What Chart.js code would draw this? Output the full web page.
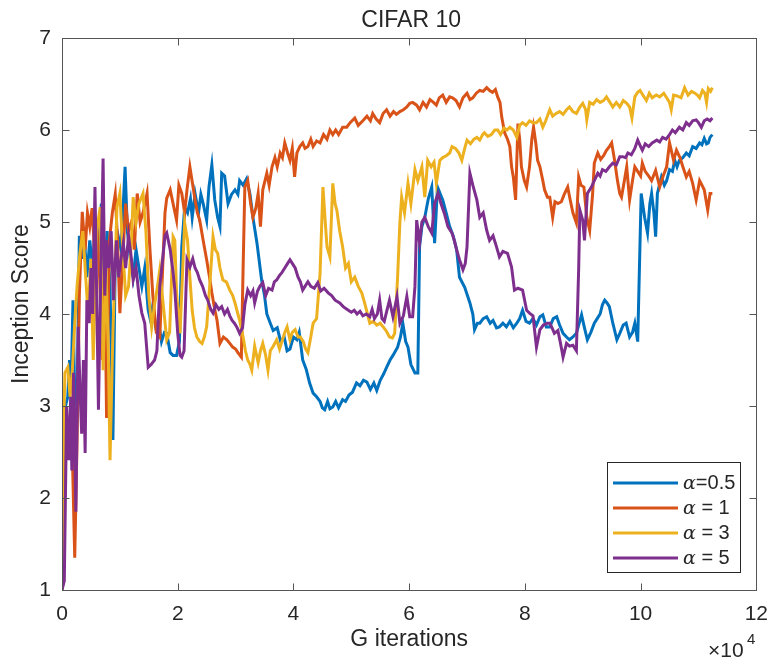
<!DOCTYPE html>
<html>
<head>
<meta charset="utf-8">
<script src="https://cdn.jsdelivr.net/npm/chart.js@4.4.1/dist/chart.umd.min.js"></script>
<style>
  html, body { margin: 0; padding: 0; background: #fff; }
  #wrap { width: 772px; height: 662px; }
</style>
</head>
<body>
<div id="wrap"><canvas id="chart" width="772" height="662"></canvas></div>
<script>
// ── Data (G iterations in units of 10^4, inception score) ─────────────────
const xTicks = [0, 2, 4, 6, 8, 10, 12];
const yTicks = [1, 2, 3, 4, 5, 6, 7];
const alphaText = ["=0.5", " = 1", " = 3", " = 5"];

const alpha05 = [
  [0,1.0],[0.03,2.3],[0.06,3.0],[0.1,3.1],[0.13,3.5],[0.16,3.3],[0.19,4.15],[0.22,3.1],[0.26,3.0],[0.3,4.85],
  [0.34,4.6],[0.38,4.9],[0.43,4.4],[0.48,4.8],[0.53,4.5],[0.58,5.0],[0.63,4.6],[0.68,5.2],[0.73,4.4],[0.78,4.9],
  [0.83,4.3],[0.88,2.63],[0.92,4.6],[0.97,4.85],[1.02,4.7],[1.06,5.2],[1.09,5.6],[1.13,4.9],[1.18,4.6],[1.23,4.4],
  [1.28,4.7],[1.33,4.5],[1.38,4.3],[1.43,4.5],[1.49,4.04],[1.53,3.93],[1.57,4.1],[1.62,3.86],[1.67,3.9],[1.72,3.7],
  [1.77,3.8],[1.81,3.79],[1.87,3.58],[1.92,3.55],[1.98,3.55],[2.03,3.7],[2.07,4.73],[2.12,5.16],[2.17,5.1],[2.22,5.25],
  [2.25,5.05],[2.3,5.31],[2.36,5.1],[2.4,5.3],[2.44,5.2],[2.5,5.02],[2.54,5.38],[2.59,5.62],[2.64,5.24],[2.69,5.05],
  [2.73,4.95],[2.76,5.53],[2.81,5.5],[2.87,5.2],[2.93,5.3],[2.99,5.35],[3.04,5.3],[3.07,5.45],[3.13,5.4],[3.19,5.47],
  [3.25,5.3],[3.3,5.05],[3.37,4.77],[3.45,4.37],[3.5,4.2],[3.54,4.0],[3.6,3.9],[3.65,3.82],[3.72,3.85],[3.78,3.7],
  [3.84,3.75],[3.89,3.6],[3.94,3.62],[4.0,3.75],[4.06,3.72],[4.1,3.8],[4.16,3.5],[4.22,3.4],[4.28,3.25],[4.34,3.14],
  [4.4,3.1],[4.46,3.05],[4.5,2.98],[4.54,2.96],[4.59,3.05],[4.63,2.97],[4.68,2.99],[4.73,3.05],[4.78,2.98],[4.85,3.07],
  [4.9,3.05],[4.96,3.12],[5.02,3.15],[5.09,3.25],[5.15,3.22],[5.21,3.28],[5.27,3.26],[5.33,3.18],[5.39,3.25],[5.44,3.17],
  [5.5,3.28],[5.56,3.35],[5.61,3.42],[5.67,3.5],[5.72,3.55],[5.8,3.64],[5.85,3.75],[5.89,3.9],[5.94,3.7],[5.98,3.64],
  [6.03,3.45],[6.1,3.36],[6.15,3.36],[6.18,4.73],[6.22,4.95],[6.27,5.05],[6.33,5.25],[6.39,5.38],[6.44,4.77],[6.49,5.38],
  [6.54,5.3],[6.58,5.24],[6.64,5.1],[6.7,4.95],[6.76,4.85],[6.82,4.7],[6.87,4.4],[6.96,4.29],[7.05,4.12],[7.1,4.0],
  [7.13,3.83],[7.18,3.9],[7.22,3.9],[7.28,3.95],[7.34,3.97],[7.4,3.9],[7.45,3.93],[7.51,3.85],[7.56,3.86],[7.62,3.9],
  [7.68,3.86],[7.74,3.92],[7.8,3.85],[7.86,3.9],[7.91,3.95],[7.96,4.04],[8.02,3.92],[8.08,3.9],[8.14,3.95],[8.2,3.88],
  [8.26,3.97],[8.31,3.99],[8.37,3.86],[8.43,3.86],[8.49,3.95],[8.55,3.97],[8.6,3.88],[8.66,3.79],[8.72,3.75],[8.77,3.72],
  [8.83,3.75],[8.89,3.79],[8.94,3.9],[8.98,3.99],[9.03,3.85],[9.08,3.72],[9.14,3.8],[9.2,3.9],[9.25,3.95],[9.3,4.0],
  [9.34,4.1],[9.38,4.15],[9.42,4.12],[9.46,4.08],[9.52,3.9],[9.59,3.72],[9.64,3.79],[9.7,3.88],[9.75,3.9],[9.81,3.75],
  [9.86,3.8],[9.9,3.9],[9.95,3.7],[10.01,5.31],[10.07,5.05],[10.12,4.88],[10.16,5.2],[10.19,5.31],[10.23,5.1],[10.26,4.84],
  [10.29,5.31],[10.36,5.49],[10.41,5.4],[10.45,5.45],[10.5,5.57],[10.55,5.55],[10.59,5.67],[10.63,5.6],[10.67,5.67],[10.73,5.7],
  [10.79,5.75],[10.84,5.72],[10.9,5.82],[10.96,5.8],[11.02,5.86],[11.06,5.84],[11.1,5.91],[11.14,5.85],[11.17,5.86],[11.2,5.92],
  [11.24,5.95]
];

const alpha1 = [
  [0,2.45],[0.04,2.1],[0.08,2.9],[0.12,2.5],[0.16,3.0],[0.22,1.35],[0.26,2.6],[0.3,4.2],[0.35,5.11],[0.4,4.7],
  [0.44,5.1],[0.48,4.95],[0.52,5.15],[0.56,4.7],[0.6,5.0],[0.65,4.4],[0.7,3.5],[0.74,4.5],[0.77,2.87],[0.82,4.8],
  [0.87,5.1],[0.92,5.3],[0.96,4.8],[1.0,4.01],[1.05,4.6],[1.1,5.2],[1.15,4.9],[1.2,5.0],[1.25,4.7],[1.3,5.31],
  [1.35,5.0],[1.4,5.1],[1.47,5.31],[1.52,4.7],[1.57,4.2],[1.63,3.8],[1.69,3.75],[1.74,4.5],[1.78,5.1],[1.81,5.26],
  [1.87,5.35],[1.92,5.2],[1.98,5.02],[2.02,5.4],[2.07,5.31],[2.12,5.1],[2.16,5.35],[2.21,5.6],[2.26,5.4],[2.3,5.24],
  [2.34,5.1],[2.38,5.02],[2.44,4.8],[2.5,4.59],[2.55,4.4],[2.59,4.23],[2.64,4.05],[2.68,3.93],[2.73,3.68],[2.79,3.75],
  [2.85,3.72],[2.9,3.68],[2.95,3.64],[3.0,3.62],[3.04,3.58],[3.1,3.53],[3.13,4.5],[3.16,5.38],[3.21,5.45],[3.26,5.2],
  [3.3,5.05],[3.35,5.15],[3.39,5.31],[3.43,4.95],[3.47,5.35],[3.54,5.53],[3.58,5.4],[3.63,5.6],[3.68,5.7],[3.72,5.6],
  [3.77,5.75],[3.81,5.7],[3.85,5.86],[3.9,5.75],[3.94,5.67],[3.98,5.8],[4.02,5.49],[4.06,5.75],[4.11,5.82],[4.16,5.86],
  [4.2,5.8],[4.25,5.82],[4.3,5.9],[4.34,5.82],[4.4,5.88],[4.46,5.86],[4.52,5.95],[4.58,5.9],[4.63,6.0],[4.68,5.95],
  [4.73,6.0],[4.78,5.95],[4.85,6.03],[4.92,6.03],[4.98,6.08],[5.06,6.13],[5.12,6.05],[5.2,6.1],[5.27,6.15],[5.33,6.1],
  [5.37,6.18],[5.43,6.12],[5.49,6.08],[5.55,6.18],[5.61,6.22],[5.67,6.15],[5.73,6.2],[5.78,6.17],[5.84,6.2],[5.9,6.22],
  [5.96,6.25],[6.01,6.29],[6.06,6.3],[6.13,6.27],[6.18,6.22],[6.24,6.3],[6.3,6.25],[6.36,6.33],[6.42,6.3],[6.47,6.27],
  [6.52,6.35],[6.58,6.38],[6.64,6.3],[6.7,6.36],[6.75,6.35],[6.81,6.32],[6.87,6.25],[6.93,6.35],[7.0,6.4],[7.05,6.33],
  [7.1,6.35],[7.16,6.4],[7.22,6.43],[7.28,6.42],[7.34,6.46],[7.39,6.43],[7.44,6.41],[7.49,6.44],[7.53,6.36],[7.57,6.3],
  [7.6,6.14],[7.65,5.97],[7.7,5.9],[7.74,5.82],[7.77,5.6],[7.8,5.49],[7.84,5.24],[7.88,6.07],[7.91,5.9],[7.94,5.6],
  [7.99,5.45],[8.03,5.38],[8.08,5.6],[8.12,5.9],[8.15,6.03],[8.19,5.85],[8.22,5.67],[8.26,5.6],[8.31,5.45],[8.34,5.35],
  [8.39,5.27],[8.43,5.27],[8.48,5.05],[8.52,5.22],[8.57,5.2],[8.63,5.22],[8.68,5.3],[8.74,5.38],[8.78,5.25],[8.83,5.1],
  [8.89,4.99],[8.93,5.49],[8.97,5.4],[9.02,5.38],[9.07,5.05],[9.12,4.91],[9.17,5.3],[9.2,5.64],[9.26,5.75],[9.31,5.68],
  [9.36,5.72],[9.41,5.78],[9.46,5.82],[9.5,5.86],[9.55,5.67],[9.6,5.45],[9.64,5.31],[9.67,5.27],[9.72,5.45],[9.76,5.6],
  [9.81,5.24],[9.86,5.45],[9.9,5.6],[9.95,5.55],[10.0,5.5],[10.03,5.64],[10.08,5.55],[10.14,5.5],[10.19,5.45],[10.26,5.56],
  [10.33,5.38],[10.39,5.5],[10.45,5.6],[10.5,5.86],[10.57,5.67],[10.62,5.78],[10.68,5.7],[10.73,5.6],[10.79,5.49],[10.84,5.55],
  [10.9,5.42],[10.96,5.24],[11.02,5.45],[11.06,5.4],[11.1,5.35],[11.16,5.13],[11.2,5.31],[11.24,5.31]
];

const alpha3 = [
  [0,1.0],[0.03,2.8],[0.05,3.36],[0.1,3.42],[0.14,3.1],[0.18,3.4],[0.22,3.9],[0.26,4.3],[0.31,4.66],[0.36,4.9],
  [0.4,4.5],[0.45,4.0],[0.5,4.6],[0.54,3.5],[0.6,4.91],[0.66,5.16],[0.71,3.39],[0.76,4.5],[0.8,3.6],[0.83,2.41],
  [0.88,3.8],[0.95,5.16],[1.0,5.31],[1.05,4.7],[1.1,4.2],[1.15,4.3],[1.2,4.8],[1.23,5.27],[1.28,5.0],[1.33,5.2],
  [1.4,5.31],[1.45,4.9],[1.5,4.2],[1.55,3.86],[1.6,4.1],[1.65,4.3],[1.69,4.48],[1.75,4.1],[1.81,3.72],[1.86,3.8],
  [1.92,4.84],[1.95,4.8],[1.98,4.23],[2.04,3.79],[2.08,4.4],[2.12,4.99],[2.17,4.8],[2.21,4.4],[2.25,4.04],[2.29,3.85],
  [2.33,3.75],[2.38,3.7],[2.42,3.68],[2.46,3.75],[2.5,3.86],[2.56,4.37],[2.61,4.84],[2.65,4.7],[2.69,4.66],[2.73,4.5],
  [2.78,4.37],[2.84,4.35],[2.9,4.26],[2.95,4.2],[2.99,4.12],[3.04,4.0],[3.07,3.93],[3.13,3.75],[3.17,3.6],[3.21,3.5],
  [3.25,3.45],[3.28,3.39],[3.33,3.65],[3.39,3.47],[3.43,3.6],[3.47,3.68],[3.52,3.55],[3.56,3.39],[3.6,3.6],[3.65,3.65],
  [3.71,3.72],[3.76,3.62],[3.8,3.7],[3.85,3.8],[3.89,3.86],[3.94,3.72],[3.98,3.8],[4.03,3.83],[4.08,3.75],[4.12,3.75],
  [4.17,3.7],[4.21,3.62],[4.25,3.58],[4.3,3.75],[4.34,3.9],[4.4,3.95],[4.46,4.44],[4.51,5.38],[4.55,5.0],[4.58,4.73],
  [4.63,4.62],[4.68,5.42],[4.72,5.2],[4.75,5.13],[4.8,4.9],[4.85,4.73],[4.9,4.5],[4.95,4.55],[5.0,4.35],[5.06,4.4],
  [5.12,4.3],[5.18,4.23],[5.23,4.12],[5.28,4.0],[5.32,3.9],[5.38,3.92],[5.44,3.88],[5.5,3.9],[5.55,3.86],[5.6,3.82],
  [5.66,3.75],[5.71,3.74],[5.75,3.79],[5.8,4.4],[5.84,5.0],[5.87,5.27],[5.92,5.1],[5.98,5.42],[6.03,5.2],[6.1,5.57],
  [6.15,5.45],[6.22,5.6],[6.27,5.27],[6.32,5.67],[6.38,5.6],[6.43,5.65],[6.47,5.42],[6.53,5.67],[6.58,5.7],[6.64,5.72],
  [6.7,5.75],[6.74,5.82],[6.8,5.8],[6.86,5.75],[6.91,5.67],[6.96,5.8],[7.0,5.89],[7.06,5.85],[7.12,5.9],[7.17,5.92],
  [7.22,5.89],[7.27,5.95],[7.3,5.97],[7.36,5.93],[7.42,5.95],[7.48,6.0],[7.53,6.0],[7.58,5.95],[7.64,6.02],[7.69,6.0],
  [7.74,6.03],[7.8,6.0],[7.86,5.92],[7.91,6.05],[7.96,6.08],[8.02,6.05],[8.08,6.1],[8.14,6.08],[8.2,6.08],[8.26,6.12],
  [8.31,6.03],[8.36,6.1],[8.43,6.22],[8.48,6.15],[8.54,6.18],[8.6,6.2],[8.66,6.17],[8.72,6.22],[8.77,6.25],[8.83,6.2],
  [8.89,6.18],[8.95,6.25],[9.0,6.29],[9.05,6.22],[9.07,6.11],[9.12,6.3],[9.18,6.28],[9.24,6.33],[9.3,6.3],[9.36,6.32],
  [9.41,6.36],[9.47,6.3],[9.52,6.25],[9.58,6.3],[9.64,6.25],[9.7,6.32],[9.76,6.29],[9.81,6.25],[9.85,6.13],[9.9,6.36],
  [9.95,6.41],[9.99,6.43],[10.05,6.37],[10.1,6.32],[10.15,6.4],[10.2,6.35],[10.27,6.38],[10.33,6.36],[10.4,6.4],[10.45,6.35],
  [10.5,6.3],[10.53,6.22],[10.57,6.38],[10.63,6.37],[10.7,6.35],[10.76,6.46],[10.82,6.38],[10.88,6.42],[10.94,6.4],[10.98,6.38],
  [11.02,6.35],[11.07,6.43],[11.11,6.4],[11.14,6.3],[11.17,6.45],[11.21,6.42],[11.24,6.46]
];

const alpha5 = [
  [0,1.0],[0.04,1.1],[0.08,2.99],[0.12,2.41],[0.15,3.1],[0.17,2.3],[0.2,3.36],[0.24,1.85],[0.28,3.86],[0.31,3.2],
  [0.34,2.7],[0.37,3.5],[0.4,2.49],[0.43,4.15],[0.47,3.9],[0.5,4.5],[0.53,4.0],[0.57,5.38],[0.6,4.2],[0.63,2.96],
  [0.67,4.4],[0.71,5.69],[0.74,4.2],[0.77,4.8],[0.81,4.5],[0.85,4.9],[0.89,4.15],[0.94,4.8],[0.98,4.4],[1.02,4.6],
  [1.06,4.77],[1.1,4.5],[1.15,4.85],[1.2,4.6],[1.23,4.37],[1.28,4.5],[1.33,4.2],[1.38,4.01],[1.43,3.9],[1.49,3.42],
  [1.54,3.45],[1.6,3.5],[1.64,3.6],[1.69,4.3],[1.74,4.6],[1.78,4.85],[1.81,4.88],[1.87,4.7],[1.92,4.45],[1.95,4.26],
  [2.0,3.79],[2.04,3.55],[2.07,3.53],[2.11,3.6],[2.14,4.2],[2.16,4.59],[2.21,4.51],[2.26,4.6],[2.3,4.5],[2.34,4.45],
  [2.38,4.37],[2.43,4.3],[2.48,4.2],[2.52,4.15],[2.57,4.05],[2.61,4.01],[2.66,4.1],[2.71,4.05],[2.76,4.08],[2.81,4.0],
  [2.86,4.05],[2.9,3.98],[2.94,3.93],[2.98,3.9],[3.02,3.86],[3.07,3.79],[3.12,3.85],[3.16,4.1],[3.21,4.26],[3.26,4.2],
  [3.3,4.25],[3.33,4.12],[3.38,4.25],[3.42,4.3],[3.47,4.34],[3.52,4.2],[3.57,4.28],[3.63,4.26],[3.67,4.35],[3.71,4.37],
  [3.76,4.42],[3.8,4.45],[3.85,4.5],[3.9,4.55],[3.94,4.59],[3.98,4.55],[4.03,4.5],[4.08,4.4],[4.12,4.35],[4.16,4.26],
  [4.2,4.3],[4.25,4.35],[4.3,4.3],[4.36,4.28],[4.42,4.34],[4.47,4.25],[4.53,4.28],[4.6,4.23],[4.66,4.2],[4.72,4.15],
  [4.8,4.12],[4.86,4.08],[4.93,4.05],[5.0,4.02],[5.05,4.04],[5.1,4.0],[5.15,4.03],[5.2,3.98],[5.26,4.0],[5.32,3.97],
  [5.36,4.05],[5.4,3.95],[5.45,4.0],[5.49,4.15],[5.53,3.95],[5.57,3.92],[5.62,4.05],[5.66,4.15],[5.72,3.97],[5.79,4.19],
  [5.84,3.9],[5.9,3.98],[5.96,4.19],[6.01,3.97],[6.06,3.97],[6.1,4.3],[6.13,5.02],[6.18,4.77],[6.22,5.0],[6.27,5.05],
  [6.33,4.95],[6.39,4.88],[6.44,5.2],[6.5,5.31],[6.55,5.2],[6.61,5.09],[6.67,4.95],[6.74,4.88],[6.78,4.8],[6.82,4.7],
  [6.87,4.59],[6.93,4.48],[6.97,4.55],[7.0,4.73],[7.05,5.53],[7.1,5.4],[7.17,5.24],[7.22,5.05],[7.28,5.1],[7.34,4.91],
  [7.39,4.8],[7.45,4.85],[7.51,4.73],[7.56,4.62],[7.62,4.68],[7.7,4.66],[7.77,4.51],[7.82,4.26],[7.88,4.28],[7.96,4.26],
  [8.03,4.04],[8.08,4.01],[8.14,3.98],[8.2,3.64],[8.26,3.83],[8.32,3.88],[8.39,3.9],[8.43,3.9],[8.47,3.85],[8.51,3.79],
  [8.57,3.82],[8.61,3.7],[8.64,3.6],[8.66,3.53],[8.72,3.68],[8.77,3.65],[8.83,3.66],[8.89,3.6],[8.93,4.5],[8.95,5.13],
  [9.0,5.02],[9.03,4.8],[9.08,5.31],[9.15,5.38],[9.2,5.45],[9.26,5.53],[9.3,5.5],[9.34,5.57],[9.4,5.55],[9.46,5.6],
  [9.52,5.64],[9.58,5.62],[9.64,5.71],[9.69,5.71],[9.74,5.7],[9.78,5.75],[9.84,5.73],[9.9,5.8],[9.95,5.89],[10.0,5.82],
  [10.03,5.78],[10.08,5.85],[10.14,5.82],[10.2,5.86],[10.28,5.89],[10.33,5.87],[10.38,5.92],[10.44,5.9],[10.5,5.95],[10.55,6.0],
  [10.6,5.97],[10.67,6.03],[10.73,6.0],[10.79,6.08],[10.84,6.05],[10.9,6.1],[10.96,6.11],[11.0,6.08],[11.05,6.03],[11.1,6.1],
  [11.15,6.12],[11.2,6.1],[11.24,6.13]
];

// ── Styling ────────────────────────────────────────────────────────────────
const COLORS = ["#0072BD", "#D95319", "#EDB120", "#7E2F8E"];
const AXIS = "#262626";
const FRAME = "#555555";
const SANS = "'Liberation Sans', Arial, sans-serif";

const toXY = arr => arr.map(([x, y]) => ({ x, y }));

// MATLAB-ish box, inward ticks, labels and inset legend
const matlabFrame = {
  id: "matlabFrame",
  afterDraw(chart) {
    const { ctx, chartArea: a, scales } = chart;
    const L = Math.round(a.left) + 0.5, R = Math.round(a.right) + 0.5;
    const T = Math.round(a.top) + 0.5, B = Math.round(a.bottom) + 0.5;
    ctx.save();
    ctx.strokeStyle = FRAME;
    ctx.lineWidth = 1;
    ctx.strokeRect(L, T, R - L, B - T);

    const tk = 7;
    ctx.beginPath();
    xTicks.forEach(v => {
      const px = Math.round(scales.x.getPixelForValue(v)) + 0.5;
      ctx.moveTo(px, B); ctx.lineTo(px, B - tk);
      ctx.moveTo(px, T); ctx.lineTo(px, T + tk);
    });
    yTicks.forEach(v => {
      const py = Math.round(scales.y.getPixelForValue(v)) + 0.5;
      ctx.moveTo(L, py); ctx.lineTo(L + tk, py);
      ctx.moveTo(R, py); ctx.lineTo(R - tk, py);
    });
    ctx.stroke();

    const cx = (a.left + a.right) / 2, cy = (a.top + a.bottom) / 2;
    ctx.fillStyle = AXIS;
    ctx.textAlign = "center";
    ctx.textBaseline = "middle";
    ctx.font = `23px ${SANS}`;
    ctx.fillText("CIFAR 10", cx + 2, 21);
    ctx.fillText("G iterations", cx, 640);

    ctx.save();
    ctx.translate(22, cy - 10);
    ctx.rotate(-Math.PI / 2);
    ctx.fillText("Inception Score", 0, 0);
    ctx.restore();

    // exponent label
    ctx.textAlign = "left";
    ctx.font = `21px ${SANS}`;
    ctx.fillText("\u00d710", 708, 651);
    ctx.font = `15px ${SANS}`;
    ctx.fillText("4", 747, 640);

    // legend
    const lx = 607.5, ly = 462.5, lw = 133, lh = 110;
    ctx.fillStyle = "#fff";
    ctx.fillRect(lx, ly, lw, lh);
    ctx.strokeStyle = AXIS;
    ctx.lineWidth = 1;
    ctx.strokeRect(lx, ly, lw, lh);
    alphaText.forEach((t, i) => {
      const y = 483 + i * 25;
      ctx.strokeStyle = COLORS[i];
      ctx.lineWidth = 3;
      ctx.beginPath();
      ctx.moveTo(613, y); ctx.lineTo(678, y);
      ctx.stroke();
      ctx.fillStyle = AXIS;
      ctx.font = `italic 19px 'DejaVu Serif', serif`;
      ctx.fillText("\u03b1", 683, y + 1);
      const aw = ctx.measureText("\u03b1").width;
      ctx.font = `20px ${SANS}`;
      ctx.fillText(t, 683 + aw, y);
    });
    ctx.restore();
  }
};

const series = [alpha05, alpha1, alpha3, alpha5];

new Chart(document.getElementById("chart"), {
  type: "line",
  data: {
    datasets: series.map((s, i) => ({
      label: "alpha" + alphaText[i],
      data: toXY(s),
      borderColor: COLORS[i],
      borderWidth: 3,
      pointRadius: 0,
      tension: 0,
      fill: false,
      order: 3 - i,
    })),
  },
  options: {
    responsive: false,
    devicePixelRatio: 1,
    animation: false,
    layout: { padding: { top: 38, right: 15, left: 0, bottom: 0 } },
    plugins: { legend: { display: false }, tooltip: { enabled: false }, title: { display: false } },
    scales: {
      x: {
        type: "linear", min: 0, max: 12,
        afterFit: s => { s.height = 72; },
        afterBuildTicks: s => { s.ticks = xTicks.map(v => ({ value: v })); },
        grid: { display: false },
        border: { display: false },
        ticks: { color: AXIS, font: { family: SANS, size: 21 }, padding: 4, maxRotation: 0 },
      },
      y: {
        type: "linear", min: 1, max: 7,
        afterFit: s => { s.width = 62; },
        afterBuildTicks: s => { s.ticks = yTicks.map(v => ({ value: v })); },
        grid: { display: false },
        border: { display: false },
        ticks: { color: AXIS, font: { family: SANS, size: 21 }, padding: 3 },
      },
    },
  },
  plugins: [matlabFrame],
});
</script>
</body>
</html>
